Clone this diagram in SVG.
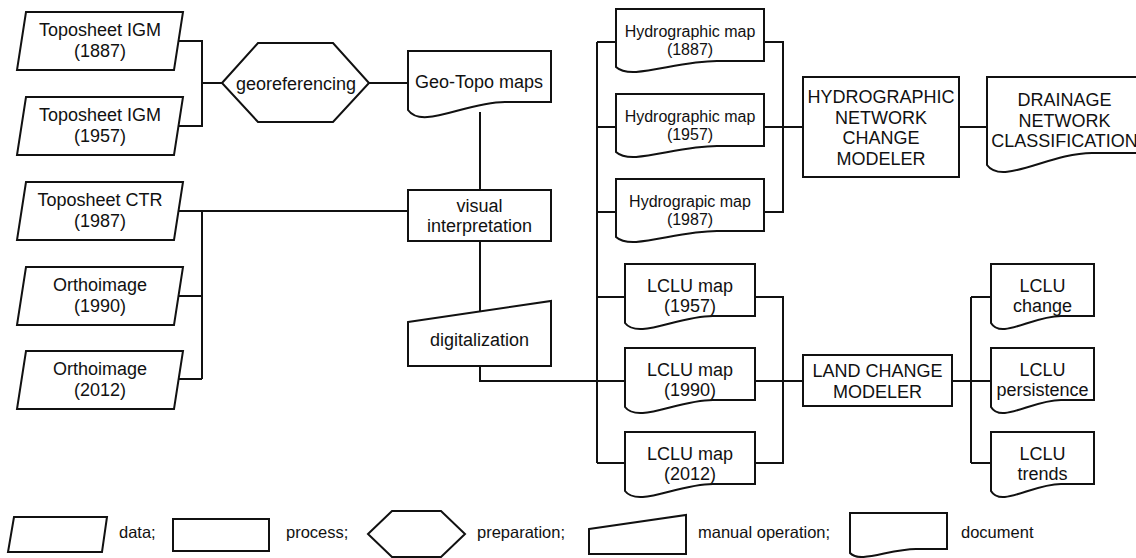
<svg xmlns="http://www.w3.org/2000/svg" width="1136" height="558" viewBox="0 0 1136 558">
<style>
.n{fill:#fff;stroke:#111;stroke-width:2;stroke-linejoin:miter}
.c{fill:none;stroke:#111;stroke-width:2}
text{font-family:"Liberation Sans",Arial,sans-serif;font-size:18px;fill:#111;text-anchor:middle}
.s16{font-size:16px}
.lg{font-size:16.5px;text-anchor:start}
</style>
<rect width="1136" height="558" fill="#fff"/>
<g id="connectors" class="c">
<path d="M176,41 H202 V126 H176"/>
<path d="M202,83 H222"/>
<path d="M369,83 H408"/>
<path d="M480,112 V190"/>
<path d="M176,211 H408"/>
<path d="M202,211 V379"/>
<path d="M176,296 H202"/>
<path d="M176,379 H202"/>
<path d="M480,241 V312"/>
<path d="M480,366 V381 H625"/>
<path d="M597,42 V463"/>
<path d="M597,42 H616 M597,127 H616 M597,212 H616"/>
<path d="M597,297 H625 M597,463 H625"/>
<path d="M764,42 H783 V212 H764 M764,127 H803"/>
<path d="M755,297 H783 V463 H755 M755,381 H803"/>
<path d="M959,127 H987"/>
<path d="M971,297 V463 M971,297 H991 M952,381 H991 M971,463 H991"/>
</g>
<g id="topo1887"><polygon class="n" points="26,12 183,12 174,70 17,70"/><text x="100" y="36">Toposheet IGM</text><text x="100" y="57">(1887)</text></g>
<g id="topo1957"><polygon class="n" points="26,97 183,97 174,155 17,155"/><text x="100" y="121">Toposheet IGM</text><text x="100" y="142">(1957)</text></g>
<g id="ctr1987"><polygon class="n" points="26,182 183,182 174,240 17,240"/><text x="100" y="206">Toposheet CTR</text><text x="100" y="227">(1987)</text></g>
<g id="ortho1990"><polygon class="n" points="26,267 183,267 174,325 17,325"/><text x="100" y="291">Orthoimage</text><text x="100" y="312">(1990)</text></g>
<g id="ortho2012"><polygon class="n" points="26,351 183,351 174,409 17,409"/><text x="100" y="375">Orthoimage</text><text x="100" y="396">(2012)</text></g>
<g id="georef"><polygon class="n" points="222,83 258,43 333,43 369,83 333,122 258,122"/><text x="296" y="90">georeferencing</text></g>
<g id="geotopo"><path class="n" d="M408,51 H551 V102 H505 C465,102 422,130 408,110 Z"/><text x="479" y="88">Geo-Topo maps</text></g>
<g id="visual"><rect class="n" x="408" y="190" width="143" height="51"/><text x="479.5" y="212">visual</text><text x="479.5" y="232">interpretation</text></g>
<g id="digital"><polygon class="n" points="408,322 551,301 551,366 408,366"/><text x="479.5" y="346">digitalization</text></g>
<g id="hydro1887"><path class="n" d="M616,9 H764 V61 H717 C675,61 631,81 616,67 Z"/><text class="s16" x="690" y="36.5">Hydrographic map</text><text class="s16" x="690" y="54.5">(1887)</text></g>
<g id="hydro1957"><path class="n" d="M616,94 H764 V146 H717 C675,146 631,166 616,152 Z"/><text class="s16" x="690" y="121.5">Hydrographic map</text><text class="s16" x="690" y="139.5">(1957)</text></g>
<g id="hydro1987"><path class="n" d="M616,179 H764 V231 H717 C675,231 631,251 616,237 Z"/><text class="s16" x="690" y="206.5">Hydrograpic map</text><text class="s16" x="690" y="224.5">(1987)</text></g>
<g id="lclu1957"><path class="n" d="M625,264 H755 V316 H713 C677,316 638,340 625,323 Z"/><text x="690" y="292">LCLU map</text><text x="690" y="312">(1957)</text></g>
<g id="lclu1990"><path class="n" d="M625,348 H755 V400 H713 C677,400 638,424 625,407 Z"/><text x="690" y="376">LCLU map</text><text x="690" y="396">(1990)</text></g>
<g id="lclu2012"><path class="n" d="M625,432 H755 V484 H713 C677,484 638,508 625,491 Z"/><text x="690" y="460">LCLU map</text><text x="690" y="480">(2012)</text></g>
<g id="hncm"><rect class="n" x="803" y="77" width="156" height="100"/><text x="881" y="103">HYDROGRAPHIC</text><text x="881" y="123.5">NETWORK</text><text x="881" y="144">CHANGE</text><text x="881" y="164.5">MODELER</text></g>
<g id="drainage"><path class="n" d="M987,77 H1142 V153 H1092 C1049,153 1002,186 987,165 Z"/><text x="1064.5" y="106">DRAINAGE</text><text x="1064.5" y="127">NETWORK</text><text x="1064.5" y="147">CLASSIFICATION</text></g>
<g id="lcm"><rect class="n" x="803" y="355" width="149" height="51"/><text x="877.5" y="377">LAND CHANGE</text><text x="877.5" y="398">MODELER</text></g>
<g id="lcluchange"><path class="n" d="M991,264 H1094 V316 H1061 C1032,316 1001,340 991,323 Z"/><text x="1042.5" y="292">LCLU</text><text x="1042.5" y="312">change</text></g>
<g id="lclupersist"><path class="n" d="M991,348 H1094 V400 H1061 C1032,400 1001,424 991,407 Z"/><text x="1042.5" y="376">LCLU</text><text x="1042.5" y="396">persistence</text></g>
<g id="lclutrends"><path class="n" d="M991,432 H1094 V484 H1061 C1032,484 1001,508 991,491 Z"/><text x="1042.5" y="460">LCLU</text><text x="1042.5" y="480">trends</text></g>
<g id="legend">
<polygon class="n" points="14,517 107,517 102,552 8,552"/><text class="lg" x="119" y="538">data;</text>
<rect class="n" x="173" y="519" width="96" height="32"/><text class="lg" x="286" y="538">process;</text>
<polygon class="n" points="368,534 392,511 441,511 465,534 441,557 392,557"/><text class="lg" x="477" y="538">preparation;</text>
<polygon class="n" points="589,529 686,515 686,554 589,554"/><text class="lg" x="698" y="538">manual operation;</text>
<path class="n" d="M850,513 H947 V549 H916 C889,549 860,564 850,553 Z"/><text class="lg" x="961" y="538">document</text>
</g>
</svg>
